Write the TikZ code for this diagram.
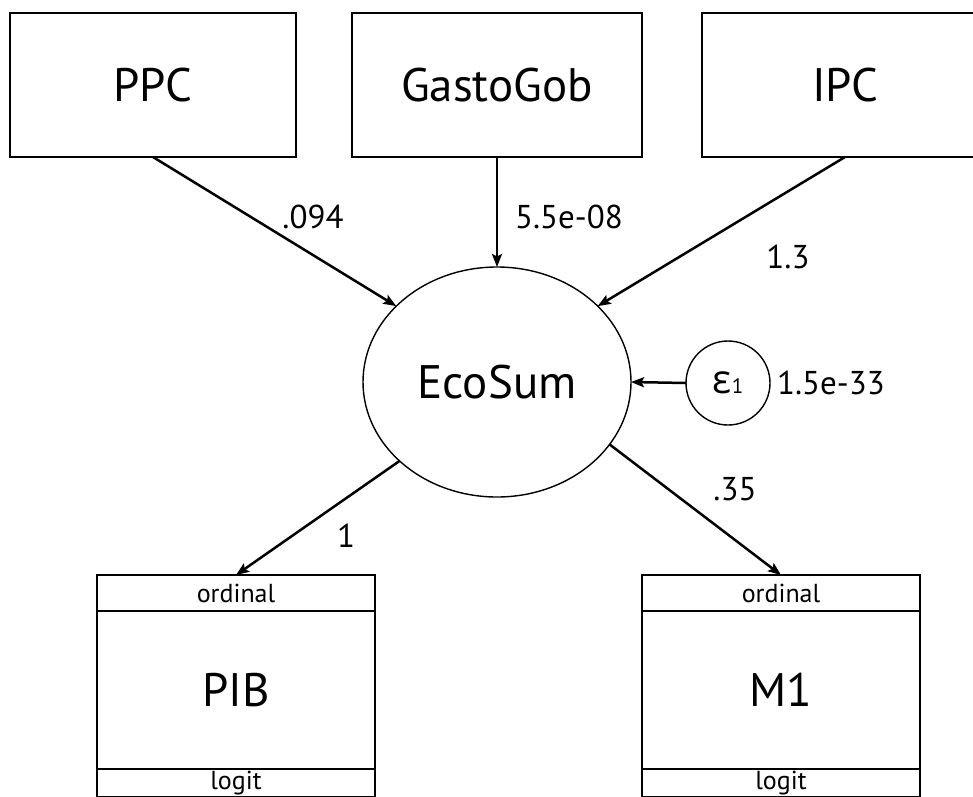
\documentclass[tikz,border=0pt]{standalone}
\usepackage{fontspec}
\setmainfont{PT Sans}
\newfontfamily\greekfont{Open Sans}
\usetikzlibrary{arrows.meta,shapes.geometric}

\begin{document}
\begin{tikzpicture}[x=1pt,y=-1pt,
  obsbox/.style={draw, line width=1.4pt, inner sep=0pt, outer sep=0pt, minimum width=286pt, minimum height=144pt, font=\fontsize{47}{50}\selectfont},
  latent/.style={draw, ellipse, line width=1.4pt, inner sep=0pt, outer sep=0pt, minimum width=268pt, minimum height=230pt, font=\fontsize{47}{50}\selectfont},
  errnode/.style={draw, circle, line width=1.4pt, inner sep=0pt, outer sep=0pt, minimum size=84pt},
  band/.style={draw, line width=1.4pt, inner sep=0pt, outer sep=0pt, minimum width=278pt, minimum height=36pt, font=\fontsize{26}{28}\selectfont},
  ordbox/.style={draw, line width=1.4pt, inner sep=0pt, outer sep=0pt, minimum width=278pt, minimum height=158pt, font=\fontsize{47}{50}\selectfont},
  coef/.style={inner sep=0pt, font=\fontsize{33}{36}\selectfont},
  causal/.style={-{Stealth[length=13pt,width=10pt,inset=2.5pt]}, line width=2.5pt}]
\clip (0,0) rectangle (973,796);
\node[obsbox] (ppc) at (153,85) {PPC};
\node[obsbox, minimum width=290pt] (gastogob) at (497,85) {GastoGob};
\node[obsbox] (ipc) at (845,85) {IPC};
\node[latent] (ecosum) at (497,382) {EcoSum};
\node[errnode] (eps) at (728,383) {{\greekfont\fontsize{40}{42}\selectfont ε}{\fontsize{21}{22}\selectfont 1}};
\node[band] (pibord) at (236,593) {ordinal};
\node[ordbox] (pib) at (236,690) {PIB};
\node[band, minimum height=28pt] (piblogit) at (236,783) {logit};
\node[band] (moneord) at (781,593) {ordinal};
\node[ordbox] (mone) at (781,690) {M1};
\node[band, minimum height=28pt] (monelogit) at (781,783) {logit};
\draw[causal] (ppc.south) -- (ecosum.143);
\draw[causal] (gastogob.south) -- (ecosum.north);
\draw[causal] (ipc.south) -- (ecosum.37);
\draw[causal] (eps.west) -- (ecosum.east);
\draw[causal] (ecosum.219) -- (pibord.north);
\draw[causal] (ecosum.331) -- (moneord.north);
\node[coef] (cppc) at (313,217) {.094};
\node[coef] (cgastogob) at (569,217) {5.5e-08};
\node[coef] (cipc) at (788,257) {1.3};
\node[coef] (ceps) at (831,383) {1.5e-33};
\node[coef] (cpib) at (346,536) {1};
\node[coef] (cmone) at (735,489) {.35};
\end{tikzpicture}
\end{document}
